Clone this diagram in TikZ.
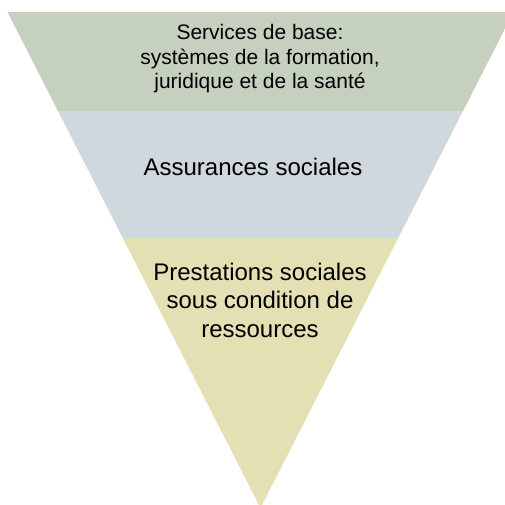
\documentclass[tikz,border=0pt]{standalone}
\usepackage{fontspec}
\setmainfont{Liberation Sans}
\definecolor{bandA}{RGB}{197,208,190}
\definecolor{bandB}{RGB}{207,216,220}
\definecolor{bandC}{RGB}{228,224,180}
\begin{document}
\begin{tikzpicture}[x=1pt,y=-1pt,
  lblS/.style={anchor=base,inner sep=0pt,font=\fontsize{21}{25}\selectfont,text=black},
  lblL/.style={anchor=base,inner sep=0pt,font=\fontsize{24}{28.5}\selectfont,text=black}]
\useasboundingbox (0,0) rectangle (505,504);
\begin{scope}
\clip (0,0) rectangle (505,504);
\clip (7.5,12) -- (513.5,12) -- (260.5,508) -- cycle;
\fill[bandA] (0,12) rectangle (520,111);
\fill[bandB] (0,111) rectangle (520,238);
\fill[bandC] (0,238) rectangle (520,510);
\end{scope}
\node[lblS] (t1) at (260,39) {Services de base:};
\node[lblS] (t2) at (260,64) {systèmes de la formation,};
\node[lblS] (t3) at (260,88) {juridique et de la santé};
\node[lblL] (m1) at (253,175) {Assurances sociales};
\node[lblL] (b1) at (260,280) {Prestations sociales};
\node[lblL] (b2) at (260,308.5) {sous condition de};
\node[lblL] (b3) at (260,337) {ressources};
\end{tikzpicture}
\end{document}
